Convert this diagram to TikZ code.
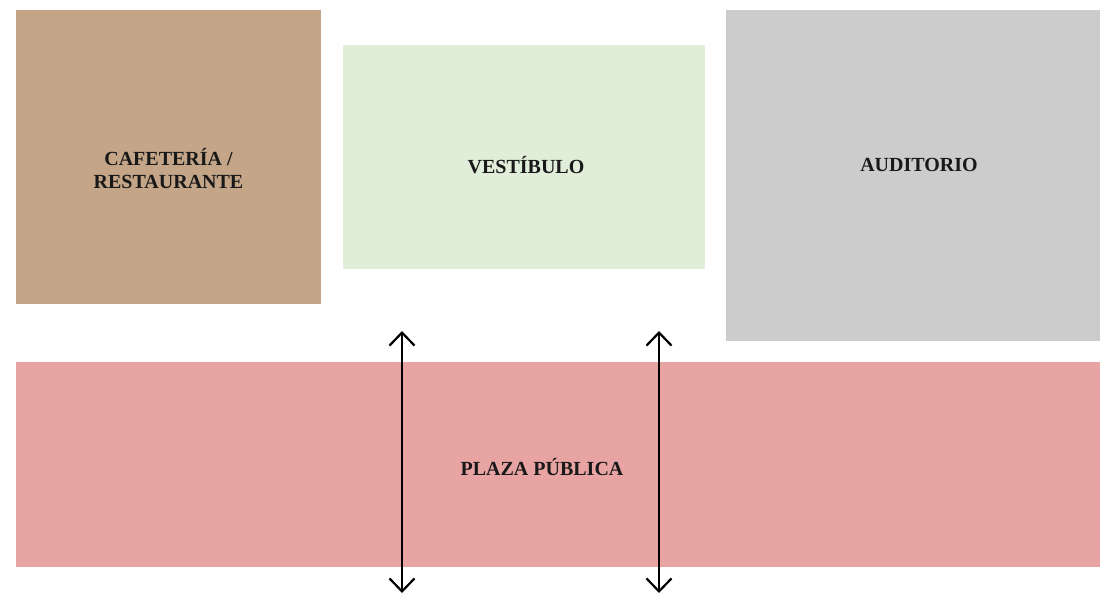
\documentclass[tikz,border=0pt]{standalone}
\usepackage{fontspec}
\setmainfont{Liberation Serif}
\usetikzlibrary{arrows.meta}
\definecolor{cafe}{HTML}{C4A587}
\definecolor{vest}{HTML}{E0EDD8}
\definecolor{audi}{HTML}{CCCCCC}
\definecolor{plaza}{HTML}{E8A3A3}
\begin{document}
\begin{tikzpicture}[x=1pt,y=-1pt,
  zone/.style={inner sep=0pt, font=\fontsize{20}{23}\selectfont\bfseries, text=black!90, align=center},
  link/.style={line width=2.4pt, {Straight Barb[length=13pt,width=25pt,line width=2.2pt]}-{Straight Barb[length=13pt,width=25pt,line width=2.2pt]}}]
\useasboundingbox (0,0) rectangle (1100,594);
\fill[cafe] (16,10) rectangle (321,304);
\fill[vest] (343,45) rectangle (705,269);
\fill[audi] (726,10) rectangle (1100,341);
\fill[plaza] (16,362) rectangle (1100,567);
\node[zone] (cafe) at (168.5,169) {CAFETERÍA /\\RESTAURANTE};
\node[zone] (vest) at (526,165) {VESTÍBULO};
\node[zone] (audi) at (919,165) {AUDITORIO};
\node[zone] (plaza) at (542,467) {PLAZA PÚBLICA};
\coordinate (a1t) at (402,331);
\coordinate (a1b) at (402,593);
\coordinate (a2t) at (659,331);
\coordinate (a2b) at (659,593);
\draw[link] (a1t) -- (a1b);
\draw[link] (a2t) -- (a2b);
\end{tikzpicture}
\end{document}
